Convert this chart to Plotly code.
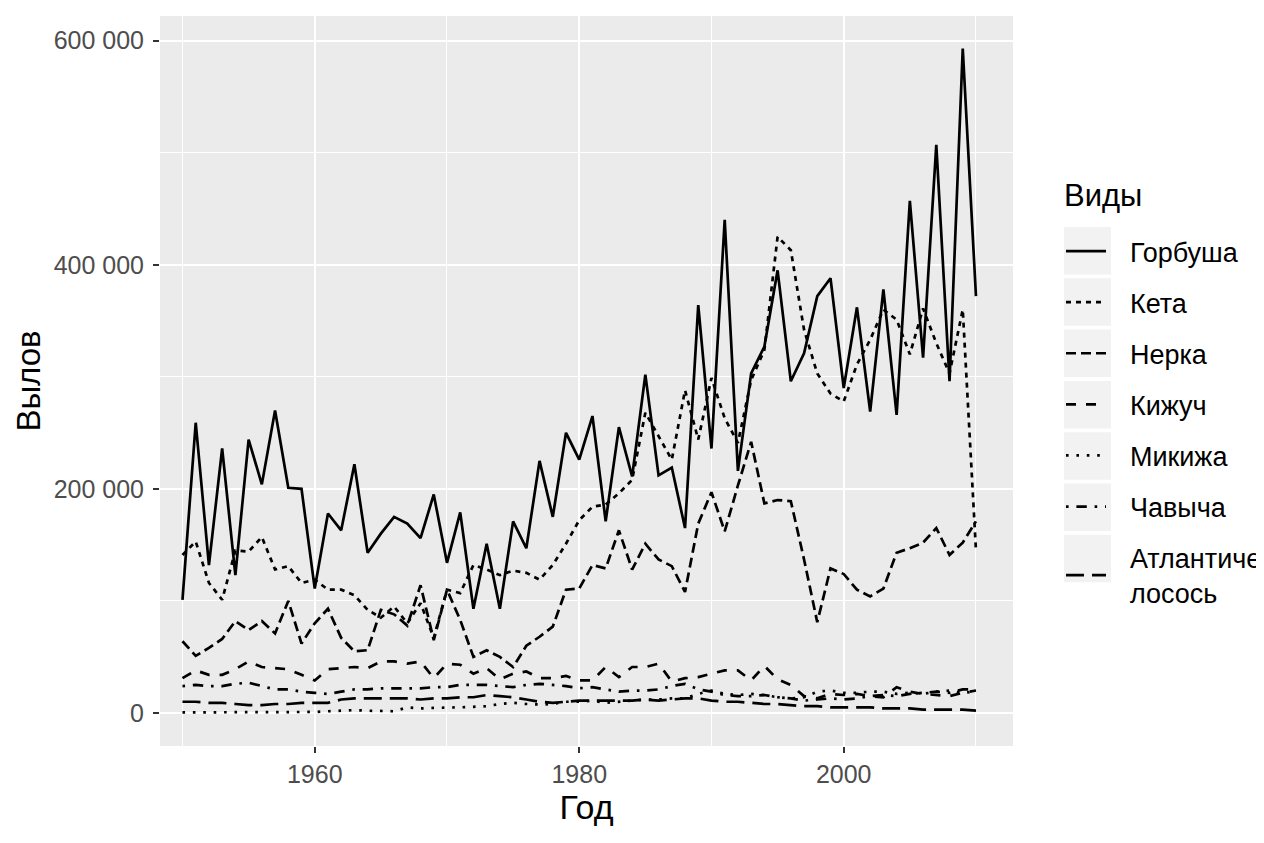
import plotly.graph_objects as go

# Улов лосося по видам, 1950-2010
years = list(range(1950, 2011))

gorbusha = [101000, 259000, 132000, 236000, 123000, 244000, 204000, 270000, 201000, 200000,
            111000, 178000, 163000, 222000, 143000, 160000, 175000, 169000, 156000, 195000,
            134000, 179000, 93000, 151000, 93000, 171000, 147000, 225000, 175000, 250000,
            226000, 265000, 171000, 255000, 211000, 302000, 212000, 219000, 165000, 364000,
            236000, 440000, 216000, 303000, 327000, 395000, 296000, 321000, 372000, 388000,
            290000, 362000, 269000, 378000, 266000, 457000, 317000, 507000, 296000, 593000,
            372000]

keta = [141000, 153000, 116000, 101000, 145000, 144000, 157000, 128000, 131000, 116000,
        119000, 110000, 110000, 105000, 92000, 85000, 95000, 80000, 98000, 67000,
        110000, 107000, 132000, 128000, 123000, 127000, 125000, 119000, 132000, 151000,
        172000, 184000, 186000, 196000, 208000, 268000, 247000, 226000, 288000, 244000,
        299000, 263000, 241000, 297000, 324000, 425000, 413000, 342000, 303000, 285000,
        278000, 311000, 333000, 360000, 351000, 320000, 361000, 330000, 303000, 360000,
        145000]

nerka = [64000, 51000, 58000, 66000, 82000, 74000, 82000, 71000, 100000, 62000,
         80000, 93000, 67000, 55000, 56000, 92000, 88000, 78000, 114000, 65000,
         110000, 83000, 50000, 56000, 50000, 41000, 60000, 68000, 77000, 110000,
         111000, 132000, 129000, 163000, 128000, 151000, 137000, 131000, 108000, 169000,
         197000, 162000, 203000, 242000, 187000, 190000, 189000, 137000, 81000, 129000,
         124000, 110000, 104000, 111000, 143000, 147000, 152000, 165000, 141000, 152000,
         171000]

kizhuch = [31000, 38000, 34000, 34000, 39000, 46000, 41000, 40000, 39000, 34000,
           29000, 39000, 40000, 41000, 40000, 46000, 46000, 44000, 46000, 31000,
           44000, 43000, 35000, 40000, 30000, 35000, 37000, 31000, 31000, 33000,
           29000, 29000, 41000, 32000, 41000, 41000, 44000, 28000, 31000, 32000,
           35000, 38000, 38000, 29000, 42000, 30000, 25000, 15000, 13000, 17000,
           16000, 17000, 15000, 14000, 23000, 19000, 17000, 16000, 15000, 18000,
           20000]

mikizha = [500, 500, 500, 500, 600, 600, 700, 700, 800, 800,
           900, 1500, 2000, 2500, 2000, 1500, 1500, 5000, 4000, 4500,
           4500, 5000, 5500, 6000, 8000, 9000, 8000, 7500, 8000, 10000,
           10000, 11000, 9000, 10000, 11000, 12000, 12000, 13000, 13000, 17000,
           20000, 17000, 16000, 17000, 16000, 14000, 13000, 14000, 19000, 20000,
           18000, 18000, 19000, 19000, 17000, 18000, 17000, 19000, 20000, 18000,
           19000]

chavycha = [24000, 25000, 24000, 24000, 26000, 27000, 24000, 21000, 21000, 19000,
            18000, 17000, 19000, 21000, 21000, 22000, 22000, 22000, 22000, 23000,
            23000, 25000, 25000, 25000, 24000, 23000, 25000, 26000, 25000, 24000,
            22000, 23000, 21000, 19000, 20000, 20000, 21000, 24000, 26000, 21000,
            19000, 16000, 15000, 15000, 16000, 14000, 13000, 11000, 12000, 13000,
            12000, 13000, 15000, 16000, 15000, 17000, 18000, 19000, 18000, 21000,
            21000]

atlant = [10000, 10000, 9000, 9000, 8000, 7000, 7000, 8000, 8000, 9000,
          9000, 9000, 12000, 13000, 13000, 13000, 13000, 13000, 12000, 13000,
          13000, 14000, 14000, 16000, 15000, 14000, 12000, 10000, 9000, 10000,
          11000, 11000, 11000, 11000, 11000, 12000, 11000, 12000, 13000, 13000,
          11000, 10000, 10000, 9000, 8000, 8000, 7000, 6000, 6000, 5000,
          5000, 5000, 5000, 4000, 4000, 4000, 3000, 3000, 3000, 3000,
          2000]

species = ['Горбуша', 'Кета', 'Нерка', 'Кижуч', 'Микижа', 'Чавыча',
           'Атлантический<br>лосось']
series = [gorbusha, keta, nerka, kizhuch, mikizha, chavycha, atlant]

y_ticks = [0, 200000, 400000, 600000]
y_ticktext = ['0', '200 000', '400 000', '600 000']
x_ticks = [1960, 1980, 2000]

# типы линий как в ggplot (solid, 22, 42, 44, 13, 1343, 73)
dashes = ['solid', '5px,5px', '10px,5px', '10px,10px', '2.6px,7.8px',
          '2.6px,7.8px,10.4px,7.8px', '18px,8px']

FONT = 'Liberation Sans, Arial, sans-serif'
PAD = '\u2002\u2009'  # отступ текста легенды от ключа

fig = go.Figure()
for i, (name, vals) in enumerate(zip(species, series)):
    label = PAD + name.replace('<br>', '<br>' + PAD)
    fig.add_trace(go.Scatter(
        x=years,
        y=vals,
        mode='lines',
        name=label,
        legendgroup=str(i),
        line=dict(color='black', width=2.7, dash=dashes[i]),
    ))


def px_x(px):
    return (px - 160) / 853


def px_y(py):
    return (746 - py) / 730


# серые подложки ключей легенды (как legend.key в ggplot)
for k in range(len(species)):
    top = 227 + k * 51.3
    fig.add_shape(type='rect', xref='paper', yref='paper',
                  x0=px_x(1064), x1=px_x(1111),
                  y0=px_y(top + 47.5), y1=px_y(top),
                  fillcolor='#F2F2F2', line_width=0, layer='below')

fig.add_annotation(text='Виды', xref='paper', yref='paper',
                   x=px_x(1062), y=px_y(195), xanchor='left', yanchor='middle',
                   showarrow=False, font=dict(size=31, color='black'))

fig.update_layout(
    width=1256,
    height=835,
    margin=dict(l=152, r=251, t=8, b=97, autoexpand=False),
    paper_bgcolor='white',
    plot_bgcolor='#EBEBEB',
    font=dict(family=FONT, color='black'),
    showlegend=True,
    legend=dict(
        font=dict(size=27),
        x=px_x(1061),
        xanchor='left',
        y=px_y(227),
        yanchor='top',
        bgcolor='rgba(0,0,0,0)',
        tracegroupgap=13,
        itemwidth=40,
    ),
    xaxis=dict(
        title=dict(text='Год', font=dict(size=34), standoff=4),
        range=[1948.3, 2012.8],
        tickvals=x_ticks,
        ticks='outside', ticklen=6, tickwidth=2, tickcolor='#333333',
        tickfont=dict(size=25, color='#4D4D4D'),
        showgrid=True, gridcolor='white', gridwidth=2.2,
        minor=dict(tickvals=[1950, 1970, 1990, 2010], showgrid=True,
                   gridcolor='white', gridwidth=1.1, ticks=''),
        zeroline=False, showline=False,
    ),
    yaxis=dict(
        title=dict(text='Вылов', font=dict(size=33), standoff=3),
        range=[-29500, 622000],
        tickvals=y_ticks,
        ticktext=y_ticktext,
        ticks='outside', ticklen=6, tickwidth=2, tickcolor='#333333',
        ticklabelstandoff=4,
        tickfont=dict(size=25, color='#4D4D4D'),
        showgrid=True, gridcolor='white', gridwidth=2.2,
        minor=dict(tickvals=[100000, 300000, 500000], showgrid=True,
                   gridcolor='white', gridwidth=1.1, ticks=''),
        zeroline=False, showline=False,
    ),
)

fig.write_html('out.html')
